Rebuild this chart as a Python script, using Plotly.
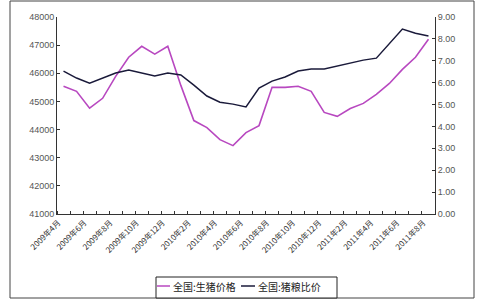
import plotly.graph_objects as go

months = ["2009年4月","2009年5月","2009年6月","2009年7月","2009年8月","2009年9月","2009年10月","2009年11月","2009年12月",
          "2010年1月","2010年2月","2010年3月","2010年4月","2010年5月","2010年6月","2010年7月","2010年8月","2010年9月",
          "2010年10月","2010年11月","2010年12月","2011年1月","2011年2月","2011年3月","2011年4月","2011年5月","2011年6月",
          "2011年7月","2011年8月"]

hog_price = [45540, 45360, 44760, 45110, 45890, 46570, 46960, 46680, 46960,
             45570, 44320, 44070, 43640, 43430, 43890, 44140, 45500, 45500,
             45540, 45360, 44610, 44470, 44750, 44930, 45250, 45640, 46140,
             46570, 47210]

hog_grain_ratio = [6.53, 6.21, 5.98, 6.21, 6.44, 6.58, 6.44, 6.30, 6.44,
                   6.35, 5.89, 5.39, 5.11, 5.02, 4.89, 5.75, 6.07, 6.26,
                   6.53, 6.62, 6.62, 6.76, 6.89, 7.03, 7.12, 7.76, 8.45,
                   8.26, 8.13]

series_names = ["全国:生猪价格", "全国:猪粮比价"]
series_colors = ["#B848C0", "#1A1A3A"]

left_ticks = [41000, 42000, 43000, 44000, 45000, 46000, 47000, 48000]
right_ticks = [0, 1, 2, 3, 4, 5, 6, 7, 8, 9]

xs = list(range(len(months)))
label_idx = list(range(0, len(months), 2))

L, R, T, B = 57, 45, 17, 86
W, H = 480, 300
pw = W - L - R
ph = H - T - B


def px(x):
    return (x - L) / pw


def py(y):
    return (T + ph - y) / ph


fig = go.Figure()
fig.add_trace(go.Scatter(x=xs, y=hog_price, mode="lines", name=series_names[0],
                         line=dict(color=series_colors[0], width=1.6), yaxis="y"))
fig.add_trace(go.Scatter(x=xs, y=hog_grain_ratio, mode="lines", name=series_names[1],
                         line=dict(color=series_colors[1], width=1.5), yaxis="y2"))

fig.update_layout(
    template="none",
    width=W, height=H,
    margin=dict(l=L, r=R, t=T, b=B, pad=0, autoexpand=False),
    paper_bgcolor="white", plot_bgcolor="white",
    font=dict(family="Noto Sans CJK SC", size=8, color="#333"),
    showlegend=False,
    xaxis=dict(range=[-0.5, len(months) - 0.5], tickvals=[i - 0.4 for i in label_idx],
               ticktext=[months[i] for i in label_idx], tickangle=-45, automargin=False,
               ticks="", showgrid=False, zeroline=False,
               showline=True, linecolor="#333", linewidth=1,
               tickfont=dict(family="Noto Sans CJK SC", size=8, color="#333"),
               minor=dict(ticks="inside", tick0=-0.5, dtick=1, ticklen=3, tickcolor="#333", showgrid=False)),
    yaxis=dict(range=[41000, 48000], tickvals=left_ticks, ticktext=[str(v) for v in left_ticks],
               ticks="inside", ticklen=3, tickcolor="#333", showgrid=False, zeroline=False,
               showline=True, linecolor="#333", linewidth=1, automargin=False,
               tickfont=dict(family="Liberation Sans", size=9, color="#555")),
    yaxis2=dict(range=[0, 9], tickvals=right_ticks, ticktext=[f"{v:.2f}" for v in right_ticks],
                overlaying="y", side="right", ticks="inside", ticklen=3, tickcolor="#333",
                showgrid=False, zeroline=False, showline=True, linecolor="#333", linewidth=1,
                automargin=False,
                tickfont=dict(family="Liberation Sans", size=9, color="#555")),
)

# chart border
fig.add_shape(type="rect", xref="paper", yref="paper",
              x0=px(10), x1=px(474), y0=py(298), y1=py(1),
              line=dict(color="#444", width=1), fillcolor="rgba(0,0,0,0)", layer="below")

# legend box (drawn manually to match the compact Excel legend)
fig.add_shape(type="rect", xref="paper", yref="paper",
              x0=px(156), x1=px(337), y0=py(298), y1=py(277),
              line=dict(color="#222", width=1), fillcolor="white")
legend_items = [(157, 170, 171), (241, 255, 256)]
for (sx0, sx1, tx), name, color in zip(legend_items, series_names, series_colors):
    fig.add_shape(type="line", xref="paper", yref="paper",
                  x0=px(sx0), x1=px(sx1), y0=py(286), y1=py(286),
                  line=dict(color=color, width=1.5))
    fig.add_annotation(xref="paper", yref="paper", x=px(tx), y=py(286),
                       xanchor="left", yanchor="middle", showarrow=False, text=name,
                       font=dict(family="Noto Sans CJK SC", size=10, color="#222"))

fig.write_html("out.html")
